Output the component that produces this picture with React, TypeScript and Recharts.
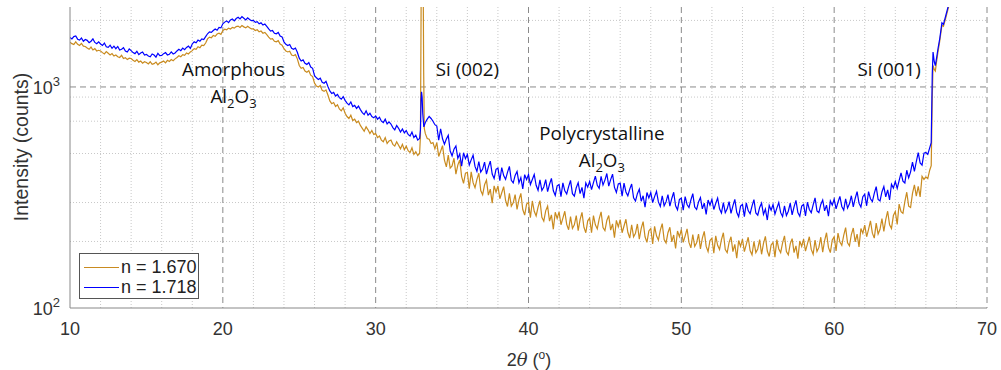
import React from "react"
import { LineChart, Line, XAxis, YAxis, CartesianGrid, ReferenceDot, Legend } from "recharts"

document.body.style.margin = "0"

// scan step (deg)
const STEP = 0.125

// n = 1.670 (orange), 10 -> 32.875
const orangeLow = [
  1595, 1570, 1555, 1600, 1560, 1540, 1575, 1530,
  1525, 1500, 1480, 1515, 1470, 1490, 1455, 1465,
  1455, 1430, 1410, 1445, 1420, 1395, 1415, 1380,
  1395, 1370, 1360, 1390, 1345, 1355, 1330, 1350,
  1345, 1320, 1305, 1330, 1295, 1310, 1280, 1300,
  1290, 1270, 1300, 1265, 1275, 1295, 1260, 1285,
  1295, 1310, 1285, 1320, 1305, 1330, 1315, 1340,
  1360, 1385, 1370, 1400, 1390, 1425, 1410, 1440,
  1460, 1490, 1480, 1520, 1505, 1545, 1540, 1580,
  1650, 1680, 1670, 1710, 1695, 1735, 1750, 1730,
  1800, 1825, 1815, 1845, 1830, 1860, 1845, 1875,
  1885, 1860, 1895, 1870, 1850, 1880, 1855, 1830,
  1830, 1800, 1815, 1775, 1790, 1750, 1765, 1725,
  1680, 1645, 1655, 1610, 1600, 1620, 1565, 1545,
  1490, 1455, 1440, 1450, 1395, 1385, 1400, 1340,
  1250, 1215, 1225, 1180, 1165, 1185, 1130, 1115,
  1040, 1010, 1000, 1015, 965, 955, 970, 920,
  865, 840, 850, 815, 830, 795, 780, 805,
  760, 735, 720, 745, 705, 715, 690, 700,
  670, 650, 630, 660, 640, 615, 635, 610,
  615, 590, 600, 575, 565, 590, 555, 570,
  575, 550, 540, 565, 545, 525, 550, 520,
  540, 515, 505, 530, 495, 510, 490, 500,
]
// Si (002) peak
const orangePeakX = [32.93, 32.96, 32.99, 33.1, 33.14, 33.18]
const orangePeakY = [600, 1500, 4000, 4000, 1200, 650]
// 33.25 -> 66.25
const orangeHigh = [
  615, 585, 580, 555, 560, 525,
  560, 485, 512, 543, 467, 435, 492, 429,
  439, 476, 403, 443, 468, 393, 366, 407,
  411, 347, 413, 369, 350, 382, 407, 340,
  325, 361, 379, 324, 345, 298, 357, 334,
  357, 312, 332, 354, 307, 288, 330, 289,
  299, 326, 279, 309, 330, 279, 263, 295,
  300, 256, 305, 274, 261, 286, 306, 257,
  247, 275, 289, 247, 264, 227, 271, 254,
  272, 238, 255, 274, 239, 226, 259, 229,
  238, 262, 224, 251, 271, 232, 219, 248,
  255, 219, 262, 238, 228, 253, 272, 231,
  224, 249, 262, 225, 240, 208, 249, 233,
  251, 219, 235, 252, 220, 207, 238, 210,
  218, 240, 205, 229, 246, 210, 198, 223,
  229, 195, 234, 212, 203, 225, 241, 204,
  197, 219, 232, 199, 214, 186, 223, 210,
  226, 198, 212, 228, 198, 187, 215, 190,
  197, 216, 185, 207, 222, 190, 180, 202,
  207, 177, 212, 192, 184, 204, 219, 184,
  178, 198, 210, 180, 194, 168, 202, 190,
  205, 180, 194, 209, 182, 174, 200, 178,
  185, 204, 175, 196, 211, 181, 171, 193,
  198, 170, 204, 185, 178, 197, 212, 180,
  174, 195, 206, 178, 191, 167, 201, 190,
  205, 181, 195, 210, 184, 175, 203, 180,
  188, 209, 179, 202, 219, 188, 178, 203,
  210, 181, 218, 199, 192, 213, 231, 197,
  191, 215, 230, 199, 216, 189, 229, 218,
  237, 210, 227, 248, 218, 207, 242, 216,
  227, 254, 222, 251, 274, 238, 229, 262,
  273, 239, 295, 273, 268, 303, 334, 289,
  285, 330, 361, 321, 355, 318, 394, 382,
  392, 385, 420,
]
// Si (001) substrate edge
const orangeRiseX = [66.35, 66.42, 66.47, 66.55, 66.62, 66.7, 66.8, 66.9, 67.05, 67.15, 67.3, 67.45, 67.6]
const orangeRiseY = [440, 900, 1250, 1200, 1180, 1300, 1450, 1600, 1900, 1880, 2050, 2250, 2450]

// n = 1.718 (blue), 10 -> 32.875
const blueLow = [
  1675, 1650, 1690, 1700, 1645, 1630, 1665, 1610,
  1640, 1625, 1585, 1610, 1650, 1590, 1570, 1600,
  1565, 1540, 1580, 1520, 1510, 1545, 1495, 1530,
  1490, 1525, 1470, 1480, 1505, 1455, 1440, 1485,
  1460, 1430, 1415, 1450, 1400, 1425, 1440, 1395,
  1405, 1380, 1370, 1410, 1395, 1365, 1420, 1385,
  1390, 1415, 1430, 1395, 1405, 1440, 1410, 1425,
  1455, 1480, 1460, 1500, 1475, 1510, 1530, 1495,
  1565, 1600, 1585, 1630, 1610, 1650, 1640, 1690,
  1740, 1775, 1765, 1800, 1830, 1805, 1860, 1850,
  1930, 1965, 1990, 1955, 2010, 2030, 1990, 2040,
  2065, 2030, 2080, 2045, 2010, 2055, 2020, 1995,
  2000, 1960, 1975, 1930, 1950, 1905, 1925, 1880,
  1830, 1790, 1800, 1750, 1740, 1765, 1700, 1685,
  1600, 1560, 1540, 1555, 1495, 1480, 1500, 1435,
  1350, 1310, 1325, 1280, 1265, 1290, 1230, 1215,
  1125, 1100, 1080, 1095, 1050, 1040, 1060, 1005,
  960, 935, 945, 910, 925, 895, 880, 905,
  870, 845, 830, 855, 815, 825, 800, 820,
  790, 765, 750, 780, 745, 760, 735, 725,
  740, 715, 730, 700, 690, 715, 680, 695,
  680, 655, 640, 670, 650, 625, 645, 620,
  635, 610, 600, 625, 590, 605, 575, 585,
]
const bluePeakX = [32.93, 32.97, 33.0, 33.04, 33.08, 33.15]
const bluePeakY = [640, 870, 950, 900, 760, 660]
// 33.25 -> 66.25
const blueHigh = [
  690, 715, 735, 720, 700, 675,
  666, 575, 647, 583, 551, 581, 604, 513,
  488, 523, 541, 475, 498, 438, 504, 474,
  495, 444, 468, 491, 437, 415, 460, 412,
  425, 457, 403, 435, 462, 404, 385, 424,
  430, 377, 432, 397, 382, 411, 437, 378,
  368, 398, 415, 368, 389, 346, 401, 381,
  402, 362, 381, 402, 359, 341, 380, 340,
  353, 381, 336, 363, 386, 339, 323, 357,
  362, 319, 368, 339, 328, 354, 378, 329,
  321, 350, 369, 329, 351, 314, 368, 352,
  374, 343, 369, 395, 359, 348, 394, 360,
  379, 406, 356, 381, 403, 351, 333, 364,
  367, 321, 367, 335, 322, 345, 364, 315,
  305, 329, 345, 304, 322, 286, 333, 315,
  333, 300, 319, 337, 302, 288, 322, 290,
  302, 326, 289, 313, 334, 290, 278, 310,
  314, 277, 319, 294, 285, 308, 329, 286,
  279, 302, 316, 281, 298, 265, 308, 292,
  310, 279, 297, 314, 281, 269, 300, 270,
  281, 303, 268, 290, 310, 271, 259, 289,
  294, 259, 299, 276, 267, 289, 309, 269,
  263, 285, 298, 265, 280, 250, 291, 277,
  294, 266, 283, 300, 270, 259, 290, 262,
  274, 298, 264, 287, 307, 270, 260, 289,
  294, 261, 301, 279, 270, 293, 315, 275,
  270, 294, 308, 275, 292, 260, 305, 292,
  310, 281, 301, 320, 288, 277, 312, 283,
  296, 322, 287, 313, 336, 298, 286, 319,
  327, 290, 336, 312, 303, 330, 354, 310,
  305, 335, 354, 318, 342, 308, 363, 349,
  374, 348, 377, 409, 375, 368, 420, 388,
  413, 457, 415, 460, 504, 453, 443, 502,
  505, 495, 530,
]
const blueRiseX = [66.35, 66.42, 66.47, 66.55, 66.62, 66.7, 66.8, 66.9, 67.05, 67.15, 67.3, 67.45, 67.6]
const blueRiseY = [560, 1150, 1440, 1300, 1250, 1350, 1500, 1640, 1950, 1920, 2100, 2300, 2500]

const xTicks = [10, 20, 30, 40, 50, 60, 70]
const xMinor = [12, 14, 16, 18, 22, 24, 26, 28, 32, 34, 36, 38, 42, 44, 46, 48, 52, 54, 56, 58, 62, 64, 66, 68]
const yTicks = [100, 1000]
const yMinor = [200, 300, 400, 500, 600, 700, 800, 900, 2000]

const ORANGE = "#c98b1f"
const BLUE = "#0000ff"

const buildSeries = (low: number[], px: number[], py: number[], high: number[], rx: number[], ry: number[]) => [
  ...low.map((v, i) => ({ x: 10 + i * STEP, y: v })),
  ...px.map((x, i) => ({ x, y: py[i] })),
  ...high.map((v, i) => ({ x: 33.25 + i * STEP, y: v })),
  ...rx.map((x, i) => ({ x, y: ry[i] })),
]

const orangeData = buildSeries(orangeLow, orangePeakX, orangePeakY, orangeHigh, orangeRiseX, orangeRiseY)
const blueData = buildSeries(blueLow, bluePeakX, bluePeakY, blueHigh, blueRiseX, blueRiseY)

const annotations = [
  { x: 20.7, y: 1190, lines: [["Amorphous"], ["Al", "2", "O", "3"]] },
  { x: 36.0, y: 1190, lines: [["Si (002)"]] },
  { x: 44.8, y: 610, lines: [["Polycrystalline"], ["Al", "2", "O", "3"]] },
  { x: 63.6, y: 1190, lines: [["Si (001)"]] },
]

const FONT = "'Liberation Sans', Arial, sans-serif"
const ANNO_FONT = "'Open Sans', sans-serif"

function XTick({ x, y, payload }: any) {
  return (
    <text x={x} y={y + 19} textAnchor="middle" fontFamily={FONT} fontSize={18} fill="#333">
      {payload.value}
    </text>
  )
}

function YTick({ x, y, payload }: any) {
  const exp = Math.round(Math.log10(payload.value))
  return (
    <text x={x - 2} y={y + 7} textAnchor="end" fontFamily={FONT} fontSize={18} fill="#333">
      10
      <tspan dy={-8} fontSize={13}>{exp}</tspan>
    </text>
  )
}

function AnnoLabel({ viewBox, lines }: any) {
  const cx = viewBox.x + (viewBox.width || 0) / 2
  const cy = viewBox.y + (viewBox.height || 0) / 2
  return (
    <text textAnchor="middle" fontFamily={ANNO_FONT} fontSize={18.8} fill="#111">
      {lines.map((parts: string[], li: number) => (
        <tspan key={li} x={cx} y={cy + 6 + li * 27}>
          {parts.map((p, pi) =>
            pi % 2 === 1 ? (
              <tspan key={pi} dy={5} fontSize={13}>{p}</tspan>
            ) : (
              <tspan key={pi} dy={pi === 0 ? 0 : -5}>{p}</tspan>
            )
          )}
        </tspan>
      ))}
    </text>
  )
}

function LegendBox() {
  const items = [
    { color: ORANGE, label: "n = 1.670" },
    { color: BLUE, label: "n = 1.718" },
  ]
  return (
    <div style={{ border: "1px solid #555", background: "#fff", width: 120, height: 46, boxSizing: "border-box", padding: "3px 0 0 4px" }}>
      {items.map((it) => (
        <div key={it.label} style={{ display: "flex", alignItems: "center", height: 20, fontFamily: FONT, fontSize: 18, color: "#222" }}>
          <span style={{ display: "inline-block", width: 35, height: 0, borderTop: `1.5px solid ${it.color}`, marginRight: 2 }} />
          {it.label}
        </div>
      ))}
    </div>
  )
}

export default function App() {
  return (
    <div style={{ width: 1001, height: 370, background: "#fff", position: "relative" }}>
      <LineChart width={1001} height={370} margin={{ top: 7, right: 14, bottom: 32, left: 10 }}>
        <CartesianGrid verticalValues={xMinor} horizontalValues={yMinor} stroke="#c8c8c8" strokeDasharray="1 2" />
        <CartesianGrid verticalValues={xTicks.slice(1)} horizontalValues={[1000]} stroke="#8a8a8a" strokeDasharray="6 4" />
        <XAxis
          type="number"
          dataKey="x"
          domain={[10, 70]}
          ticks={xTicks}
          allowDataOverflow
          height={30}
          tickLine={false}
          axisLine={{ stroke: "#888" }}
          tick={<XTick />}
        />
        <YAxis
          type="number"
          dataKey="y"
          scale="log"
          domain={[100, 2300]}
          ticks={yTicks}
          allowDataOverflow
          width={60}
          tickLine={false}
          axisLine={{ stroke: "#888" }}
          tick={<YTick />}
        />
        <Line data={orangeData} dataKey="y" stroke={ORANGE} strokeWidth={1.2} dot={false} isAnimationActive={false} name="n = 1.670" />
        <Line data={blueData} dataKey="y" stroke={BLUE} strokeWidth={1.2} dot={false} isAnimationActive={false} name="n = 1.718" />
        {annotations.map((a, i) => (
          <ReferenceDot key={i} x={a.x} y={a.y} r={0} fill="none" stroke="none" label={<AnnoLabel lines={a.lines} />} />
        ))}
        <Legend
          layout="vertical"
          align="center"
          verticalAlign="middle"
          wrapperStyle={{ left: 79, top: 253, width: 120, height: 46 }}
          content={<LegendBox />}
        />
      </LineChart>
      <div
        style={{
          position: "absolute",
          left: 21,
          top: 147,
          transform: "translate(-50%, -50%) rotate(-90deg)",
          fontFamily: FONT,
          fontSize: 19.5,
          color: "#333",
          whiteSpace: "nowrap",
        }}
      >
        Intensity (counts)
      </div>
      <div
        style={{
          position: "absolute",
          left: 529,
          top: 359,
          transform: "translate(-50%, -50%)",
          fontFamily: FONT,
          fontSize: 18,
          color: "#333",
          whiteSpace: "nowrap",
        }}
      >
        2<i style={{ fontFamily: "'DejaVu Serif', serif" }}>θ</i> (<sup style={{ fontSize: 12 }}>o</sup>)
      </div>
    </div>
  )
}
